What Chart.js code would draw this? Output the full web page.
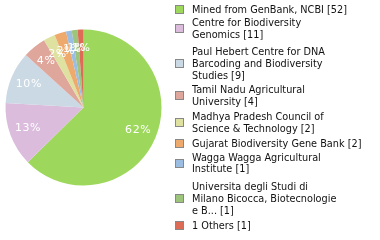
<!DOCTYPE html>
<html><head><meta charset="utf-8">
<script src="https://cdn.jsdelivr.net/npm/chart.js@4.4.1/dist/chart.umd.min.js"></script>
<style>
html,body{margin:0;padding:0;background:#fff;}
#wrap{position:relative;width:380px;height:240px;overflow:hidden;}
#c{position:absolute;left:0;top:0;}
#legend{position:absolute;left:0;top:0;width:380px;height:240px;font-family:"DejaVu Sans Condensed","DejaVu Sans",sans-serif;font-size:10.8px;color:#111;}
.item{position:absolute;left:192px;line-height:11.8px;white-space:nowrap;}
.sq{position:absolute;width:7px;height:7px;border:1px solid #888;left:-17px;}
</style></head>
<body><div id="wrap"><canvas id="c" width="380" height="240"></canvas><div id="legend"></div></div>
<script>
const categories = [
  ["Mined from GenBank, NCBI [52]"],
  ["Centre for Biodiversity","Genomics [11]"],
  ["Paul Hebert Centre for DNA","Barcoding and Biodiversity","Studies [9]"],
  ["Tamil Nadu Agricultural","University [4]"],
  ["Madhya Pradesh Council of","Science & Technology [2]"],
  ["Gujarat Biodiversity Gene Bank [2]"],
  ["Wagga Wagga Agricultural","Institute [1]"],
  ["Universita degli Studi di","Milano Bicocca, Biotecnologie","e B... [1]"],
  ["1 Others [1]"]
];
const values = [52, 11, 9, 4, 2, 2, 1, 1, 1];
const colors = ["#9dd85d","#dbbcdd","#cbd9e4","#dfa69c","#dfe1a0","#eeaa6d","#9cbde2","#9cc47a","#dd6b56"];
const legendTops = [3.5, 17, 46, 84, 111, 138, 151.5, 181, 220];

const total = values.reduce((a,b)=>a+b,0);

const pctPlugin = {
  id:'pct',
  afterDatasetsDraw(chart){
    const ctx = chart.ctx;
    const meta = chart.getDatasetMeta(0);
    ctx.save();
    ctx.fillStyle = '#fff';
    ctx.font = '11px "DejaVu Sans", sans-serif';
    ctx.letterSpacing = '0.6px';
    ctx.textAlign = 'center';
    ctx.textBaseline = 'middle';
    meta.data.forEach((arc,i)=>{
      const p = arc.getProps(['x','y','startAngle','endAngle','outerRadius'],true);
      const mid = (p.startAngle+p.endAngle)/2;
      const r = p.outerRadius*0.76;
      const txt = Math.floor(values[i]/total*100)+'%';
      ctx.fillText(txt, p.x+Math.cos(mid)*r, p.y+Math.sin(mid)*r);
    });
    ctx.restore();
  }
};

new Chart(document.getElementById('c'), {
  type:'pie',
  data:{
    labels: categories.map(l=>l.join(' ')),
    datasets:[{data: values, backgroundColor: colors, borderWidth: 0}]
  },
  options:{
    responsive:false,
    animation:false,
    layout:{padding:{left:5.5, right:218.5, top:29.5, bottom:54.5}},
    plugins:{legend:{display:false}, tooltip:{enabled:false}}
  },
  plugins:[pctPlugin]
});

const lg = document.getElementById('legend');
categories.forEach((lines,i)=>{
  const d = document.createElement('div');
  d.className='item';
  d.style.top = legendTops[i]+'px';
  lines.forEach((t,j)=>{
    if(j) d.appendChild(document.createElement('br'));
    d.appendChild(document.createTextNode(t));
  });
  const s = document.createElement('div');
  s.className='sq';
  s.style.background = colors[i];
  s.style.top = ((lines.length*11.8)/2 - 4.5)+'px';
  d.appendChild(s);
  lg.appendChild(d);
});
</script></body></html>
